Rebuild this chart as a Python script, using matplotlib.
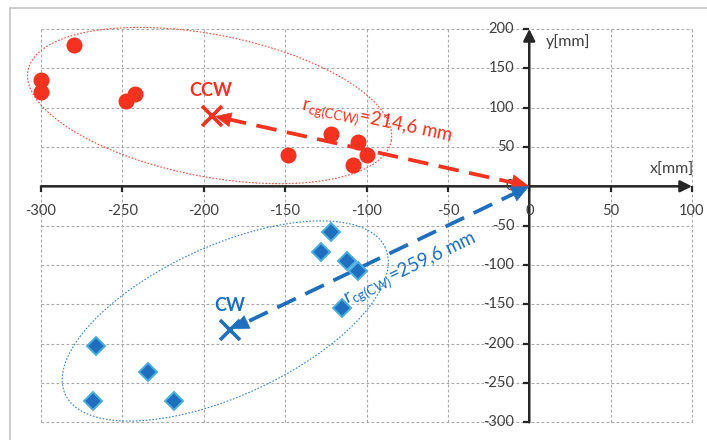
import numpy as np
import matplotlib.pyplot as plt
from matplotlib.lines import Line2D

# CCW points (red circles) and CW points (blue diamonds), mm
ccw_x = [-280, -300, -300, -248, -242, -148, -122, -105, -100, -108]
ccw_y = [180, 135, 120, 108, 118, 40, 66, 56, 40, 27]
cw_x = [-122, -128, -112, -105, -115, -266, -234, -268, -218]
cw_y = [-58, -83, -95, -108, -155, -203, -236, -273, -273]

# centres of gravity
cg_ccw = (-195, 90)
cg_cw = (-184, -183)
r_ccw = "214,6"
r_cw = "259,6"

x_ticks = [-300, -250, -200, -150, -100, -50, 0, 50, 100]
y_ticks = [200, 150, 100, 50, 0, -50, -100, -150, -200, -250, -300]

RED = '#F5321F'
BLUE = '#1F6FBE'
BLUE_EDGE = '#4AAEDC'
AXIS = '#262626'
LABEL = '#404040'

plt.rcParams['font.family'] = ['Lato', 'DejaVu Sans']

W, H = 707, 440
fig = plt.figure(figsize=(W / 100, H / 100), dpi=100)
# plot area in pixels
L, R, T, B = 41, 692, 29, 422.3
ax = fig.add_axes([L / W, 1 - B / H, (R - L) / W, (B - T) / H])
ax.set_xlim(-300, 100)
ax.set_ylim(-300, 200)
sx = (R - L) / 400.0   # px per mm, x
sy = (B - T) / 500.0   # px per mm, y

for s in ax.spines.values():
    s.set_visible(False)
ax.set_xticks([])
ax.set_yticks([])

# dashed grid
for x in x_ticks:
    ax.axvline(x, color='#A8A8A8', lw=0.8, ls=(0, (2.5, 2)), clip_on=False, zorder=0)
for y in y_ticks:
    ax.axhline(y, color='#A8A8A8', lw=0.8, ls=(0, (2.5, 2)), clip_on=False, zorder=0)

# axes through origin with arrows
ax.annotate('', xy=(100, 0), xytext=(-300, 0),
            arrowprops=dict(arrowstyle='-|>,head_length=7,head_width=3.5', mutation_scale=1,
                            color=AXIS, lw=1.8, shrinkA=0, shrinkB=0), zorder=2)
ax.annotate('', xy=(0, 200), xytext=(0, -300),
            arrowprops=dict(arrowstyle='-|>,head_length=7,head_width=3.5', mutation_scale=1,
                            color=AXIS, lw=1.8, shrinkA=0, shrinkB=0), zorder=2)
ax.plot(x_ticks, [0] * len(x_ticks), ls='none', marker=3, ms=4, mew=1.6, color=AXIS,
        clip_on=False, zorder=2)
ax.plot([0] * len(y_ticks), y_ticks, ls='none', marker=0, ms=4, mew=1.6, color=AXIS,
        clip_on=False, zorder=2)

for x in x_ticks:
    ax.annotate(str(x), (x, 0), xytext=(0, -25), textcoords='offset pixels',
                ha='center', va='center', fontsize=10.5, color=LABEL, annotation_clip=False)
for y in y_ticks:
    ax.annotate(str(y), (0, y), xytext=(-15, 0), textcoords='offset pixels',
                ha='right', va='center', fontsize=10.5, color=LABEL, annotation_clip=False)

ax.text(10, 184, 'y[mm]', ha='left', va='center', fontsize=11.5, color=LABEL)
ax.text(101, 21, 'x[mm]', ha='right', va='center', fontsize=11.5, color=LABEL)


def draw_ellipse(cx, cy, a_px, b_px, ang, color):
    t = np.linspace(0, 2 * np.pi, 400)
    th = np.radians(ang)
    ex = a_px * np.cos(t) * np.cos(th) - b_px * np.sin(t) * np.sin(th)
    ey = a_px * np.cos(t) * np.sin(th) + b_px * np.sin(t) * np.cos(th)
    ax.plot(cx + ex / sx, cy + ey / sy, color=color, lw=0.8, ls=(0, (1.5, 1.5)),
            clip_on=False, zorder=1)


def head(tip, back, color, hl, hw):
    # small solid segment ending in a filled arrow head
    dx, dy = (back[0] - tip[0]) * sx, (back[1] - tip[1]) * sy
    n = np.hypot(dx, dy)
    start = (tip[0] + dx / n * (hl * 1.5) / sx, tip[1] + dy / n * (hl * 1.5) / sy)
    ax.annotate('', xy=tip, xytext=start,
                arrowprops=dict(arrowstyle=f'-|>,head_length={hl},head_width={hw}',
                                mutation_scale=1, color=color, lw=0.5,
                                shrinkA=0, shrinkB=0), zorder=4)


def radius_arrow(cg, color):
    dx, dy = cg[0] * sx, cg[1] * sy
    n = np.hypot(dx, dy)
    ux, uy = dx / n, dy / n
    p0 = (ux * 10 / sx, uy * 10 / sy)
    p1 = (cg[0] - ux * 12 / sx, cg[1] - uy * 12 / sy)
    ax.plot([p0[0], p1[0]], [p0[1], p1[1]], color=color, lw=2.7,
            ls=(0, (5.5, 2.8)), zorder=3, solid_capstyle='butt')
    head((0, 0), cg, color, 12, 5.5)
    tip = (cg[0] - ux * 3 / sx, cg[1] - uy * 3 / sy)
    head(tip, (0, 0), color, 11, 5)


draw_ellipse(-196.4, 102.7, 185, 71, -11, '#F2503C')
draw_ellipse(-186.8, -171.2, 176, 75, 24.6, '#3C82C0')

radius_arrow(cg_ccw, RED)
radius_arrow(cg_cw, BLUE)

ax.plot(ccw_x, ccw_y, ls='none', marker='o', ms=10.5, color=RED, mec=RED, zorder=5,
        clip_on=False)
ax.plot(cw_x, cw_y, ls='none', marker='D', ms=9, color=BLUE, mec=BLUE_EDGE, mew=1.4,
        zorder=5, clip_on=False)
ax.plot(*cg_ccw, marker='x', ms=14, mew=2.6, color=RED, zorder=6)
ax.plot(*cg_cw, marker='x', ms=14, mew=2.6, color=BLUE, zorder=6)

ax.text(-195.5, 122, 'CCW', ha='center', va='center', fontsize=13, fontweight='bold', color=RED)
ax.text(-184, -151, 'CW', ha='center', va='center', fontsize=13, fontweight='bold', color=BLUE)

ax.text(-140.7, 97, r'r$_{\mathregular{cg(CCW)}}$=' + r_ccw + ' mm', rotation=-12,
        rotation_mode='anchor', ha='left', va='baseline', fontsize=13.5, color=RED, zorder=6)
ax.text(-112, -150, r'r$_{\mathregular{cg(CW)}}$=' + r_cw + ' mm', rotation=25.5,
        rotation_mode='anchor', ha='left', va='baseline', fontsize=13.5, color=BLUE, zorder=6)

# outer chart frame (left and top edges)
fig.add_artist(Line2D([10 / W, 10 / W], [0, 1 - 8 / H], color='#C4C4C4', lw=1.2))
fig.add_artist(Line2D([10 / W, 1], [1 - 8 / H, 1 - 8 / H], color='#C4C4C4', lw=1.2))

fig.savefig('out.png', dpi=100)
